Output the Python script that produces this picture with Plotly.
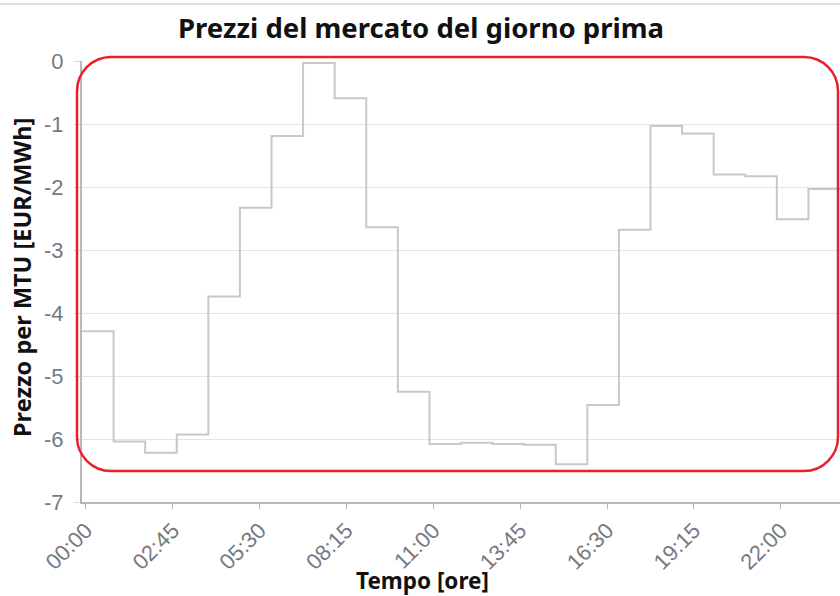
import plotly.graph_objects as go

# ---- data ----
hour_labels = ["00:00", "01:00", "02:00", "03:00", "04:00", "05:00", "06:00", "07:00",
               "08:00", "09:00", "10:00", "11:00", "12:00", "13:00", "14:00", "15:00",
               "16:00", "17:00", "18:00", "19:00", "20:00", "21:00", "22:00", "23:00"]
prices = [-4.29, -6.04, -6.22, -5.93, -3.74, -2.33, -1.19, -0.03,
          -0.59, -2.64, -5.25, -6.08, -6.06, -6.08, -6.09, -6.40,
          -5.46, -2.68, -1.03, -1.15, -1.80, -1.83, -2.51, -2.03]
tick_labels = ["00:00", "02:45", "05:30", "08:15", "11:00", "13:45", "16:30", "19:15", "22:00"]
y_ticks = [0, -1, -2, -3, -4, -5, -6, -7]


def to_hours(s):
    h, m = s.split(":")
    return int(h) + int(m) / 60.0


# step function: each hourly price holds until the next hour
x_hours = [to_hours(s) for s in hour_labels] + [24.0]
y_vals = prices + [prices[-1]]
# labels sit at the centre of their quarter-hour slot
tick_vals = [to_hours(s) + 0.125 for s in tick_labels]

W, H = 840, 596
ML, MR, MT, MB = 82, 0, 61, 94
PW, PH = W - ML - MR, H - MT - MB


def px(xp):
    return (xp - ML) / PW


def py(yp):
    return (H - MB - yp) / PH


fig = go.Figure()
fig.add_trace(go.Scatter(
    x=x_hours, y=y_vals, mode="lines", line_shape="hv",
    line=dict(color="#c8c8c8", width=2), showlegend=False, hoverinfo="skip",
))

tick_font = dict(family="Liberation Sans, Arial, sans-serif", size=22, color="#767a80")

fig.update_xaxes(
    range=[0, 24], tickmode="array", tickvals=tick_vals, ticktext=tick_labels,
    tickangle=-45, ticks="outside", ticklen=5, tickcolor="#b8b8b8",
    showgrid=False, zeroline=False, showline=True, linecolor="#b8b8b8", linewidth=2,
    tickfont=tick_font,
)
fig.update_yaxes(
    range=[-7, 0], tickmode="array", tickvals=y_ticks, ticktext=[str(v) for v in y_ticks],
    ticks="outside", ticklen=6, tickcolor="#d8d8d8",
    showgrid=True, gridcolor="#e4e4e4", gridwidth=1, zeroline=False,
    showline=True, linecolor="#b8b8b8", linewidth=2, tickfont=tick_font,
    ticklabelstandoff=6,
)

# red rounded highlight box (pixel geometry converted to paper coords)
L, R, T, B, r = 77, 838, 57, 471, 34
k = 0.55 * r
path = (
    f"M {px(L + r)},{py(T)} L {px(R - r)},{py(T)} "
    f"C {px(R - r + k)},{py(T)} {px(R)},{py(T + r - k)} {px(R)},{py(T + r)} "
    f"L {px(R)},{py(B - r)} "
    f"C {px(R)},{py(B - r + k)} {px(R - r + k)},{py(B)} {px(R - r)},{py(B)} "
    f"L {px(L + r)},{py(B)} "
    f"C {px(L + r - k)},{py(B)} {px(L)},{py(B - r + k)} {px(L)},{py(B - r)} "
    f"L {px(L)},{py(T + r)} "
    f"C {px(L)},{py(T + r - k)} {px(L + r - k)},{py(T)} {px(L + r)},{py(T)} Z"
)
fig.add_shape(type="path", path=path, xref="paper", yref="paper",
              line=dict(color="#e8202a", width=2.5), fillcolor="rgba(0,0,0,0)", layer="above")
# thin container border line at top
fig.add_shape(type="line", xref="paper", yref="paper", x0=px(0), x1=px(W), y0=py(4), y1=py(4),
              line=dict(color="#d4d4d4", width=1.5))

title_font = dict(family="Noto Sans, Open Sans, sans-serif", size=27.5, color="#111111")

fig.add_annotation(text="<b>Prezzo per MTU [EUR/MWh]</b>", xref="paper", yref="paper",
                   x=px(22), y=py(278), xanchor="center", yanchor="middle",
                   textangle=-90, showarrow=False,
                   font=dict(family="Noto Sans, Open Sans, sans-serif", size=23.5, color="#111111"))
fig.add_annotation(text="<b>Tempo [ore]</b>", xref="paper", yref="paper",
                   x=px(422), y=py(580), xanchor="center", yanchor="middle",
                   showarrow=False,
                   font=dict(family="Noto Sans, Open Sans, sans-serif", size=22.5, color="#111111"))

fig.update_layout(
    width=W, height=H,
    margin=dict(l=ML, r=MR, t=MT, b=MB, pad=0),
    paper_bgcolor="white", plot_bgcolor="white",
    title=dict(text="<b>Prezzi del mercato del giorno prima</b>", x=421 / W, xref="container",
               xanchor="center", y=1 - 28 / H, yref="container", yanchor="middle",
               font=title_font),
    showlegend=False,
)

fig.write_html("out.html", config={"displayModeBar": False},
               post_script="document.body.style.margin='0';document.body.style.overflow='hidden';")
